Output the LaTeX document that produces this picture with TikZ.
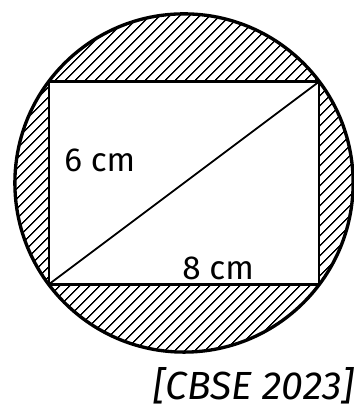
\documentclass[tikz,border=0pt]{standalone}
\usepackage{fontspec}
\setmainfont{Fira Sans}
\usetikzlibrary{patterns.meta}

\begin{document}
\begin{tikzpicture}[
    hatch/.style={pattern={Lines[angle=45, distance=6.4pt, line width=1.3pt]}, even odd rule},
    outline/.style={draw, line width=2.8pt},
    side/.style={draw, line width=2pt},
    every node/.style={inner sep=0pt, font=\fontsize{28}{32}\selectfont}
]
    \useasboundingbox (-5.44,-6.83) rectangle (5.0,5.41);
    % corners of the rectangle
    \coordinate (A) at (-4,-3);
    \coordinate (B) at (4,-3);
    \coordinate (C) at (4,3);
    \coordinate (D) at (-4,3);
    \coordinate (O) at (0,0);
    \fill[hatch] (O) circle (5) (A) rectangle (C);
    \draw[outline] (O) circle (5);
    \draw[side] (A) -- (B) -- (C) -- (D) -- cycle;
    \draw[line width=1.5pt] (A) -- (C);
    \node (six) at (-2.49,0.68) {6 cm};
    \node (eight) at (1.01,-2.54) {8 cm};
    \node (year) at (2.06,-6.0) {\fontsize{33}{36}\selectfont\itshape [CBSE 2023]};
\end{tikzpicture}
\end{document}
